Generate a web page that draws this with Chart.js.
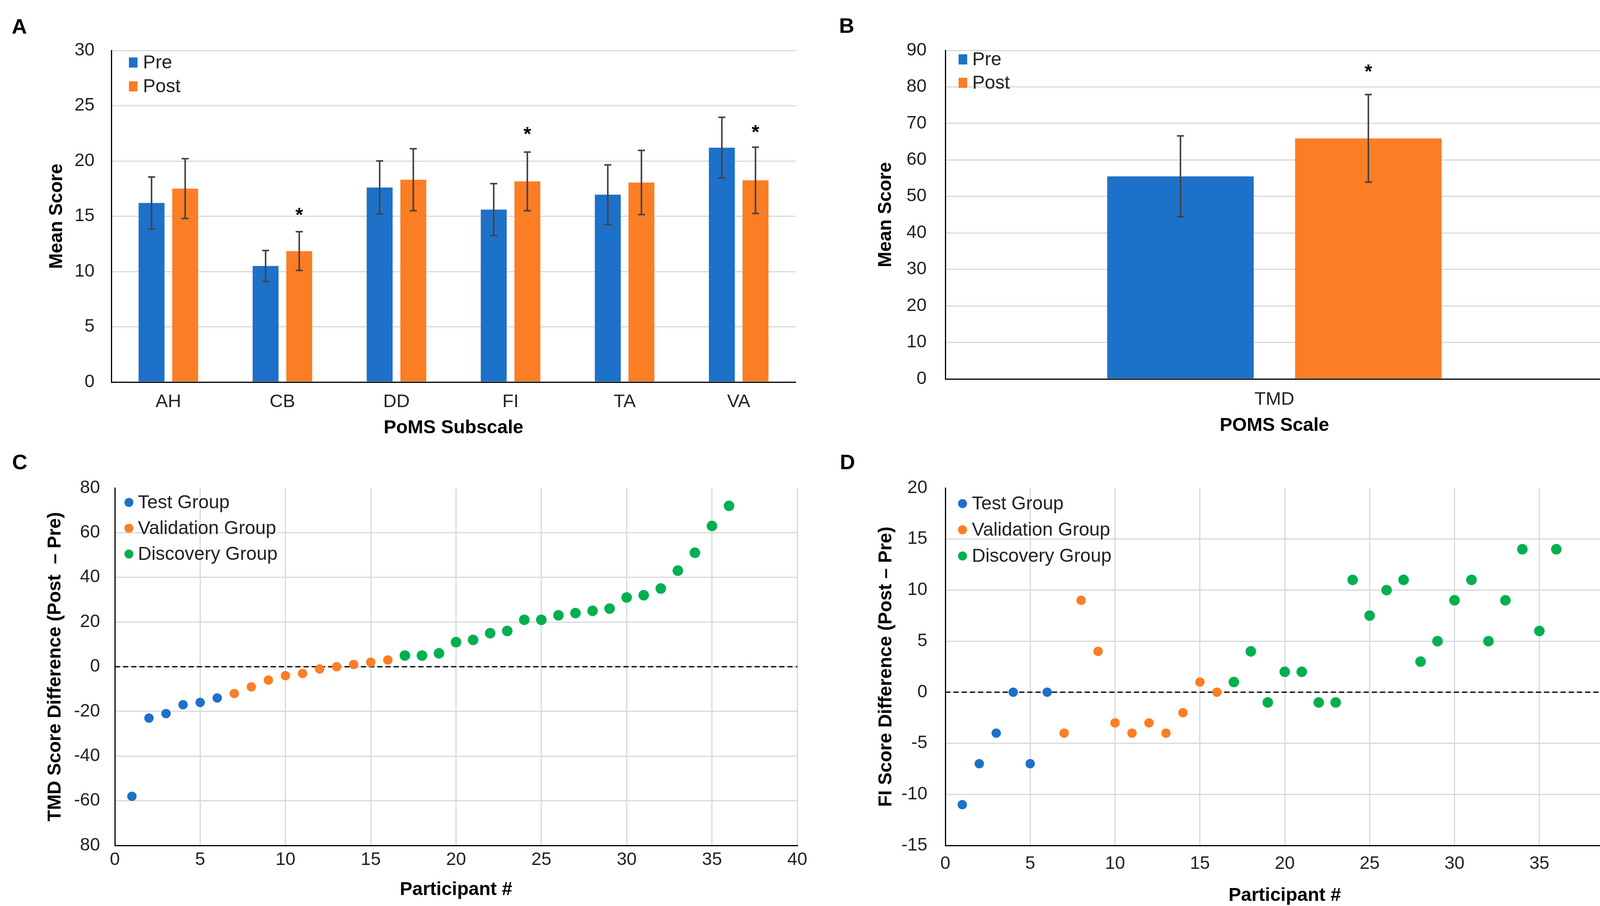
<!DOCTYPE html>
<html>
<head>
<meta charset="utf-8">
<script src="https://cdn.jsdelivr.net/npm/chart.js@4.4.1/dist/chart.umd.min.js"></script>
<style>
  html, body { margin: 0; padding: 0; background: #fff; }
  body { width: 4208px; height: 2319px; position: relative; overflow: hidden; font-family: "Liberation Sans", Arial, sans-serif; }
  canvas { position: absolute; }
  .letter { position: absolute; font-weight: bold; font-size: 54px; line-height: 1; color: #000; }
</style>
</head>
<body>
<div class="letter" style="left:30px;top:40px">A</div>
<div class="letter" style="left:2148px;top:38px">B</div>
<div class="letter" style="left:31px;top:1155px">C</div>
<div class="letter" style="left:2150px;top:1155px">D</div>

<canvas id="chartA" width="2104" height="1160" style="left:0;top:0;width:2104px;height:1160px"></canvas>
<canvas id="chartB" width="2104" height="1160" style="left:2104px;top:0;width:2104px;height:1160px"></canvas>
<canvas id="chartC" width="2104" height="1159" style="left:0;top:1160px;width:2104px;height:1159px"></canvas>
<canvas id="chartD" width="2104" height="1159" style="left:2104px;top:1160px;width:2104px;height:1159px"></canvas>

<script>
// panel A - PoMS subscales
const subscales = ['AH', 'CB', 'DD', 'FI', 'TA', 'VA'];
const preMeans = [16.2, 10.5, 17.6, 15.6, 16.95, 21.2];
const preErr = [2.35, 1.4, 2.4, 2.35, 2.7, 2.75];
const postMeans = [17.5, 11.85, 18.3, 18.15, 18.05, 18.25];
const postErr = [2.7, 1.75, 2.8, 2.65, 2.9, 3.0];
const postStars = [null, 15.3, null, 22.6, null, 22.8];

// panel B - TMD
const scaleLabels = ['TMD'];
const tmdPre = [55.5];
const tmdPreErr = [11.1];
const tmdPost = [65.9];
const tmdPostErr = [12];
const tmdStars = [84.8];

// panels C and D - participants
const testIds = [1, 2, 3, 4, 5, 6];
const validIds = [7, 8, 9, 10, 11, 12, 13, 14, 15, 16];
const discIds = [17, 18, 19, 20, 21, 22, 23, 24, 25, 26, 27, 28, 29, 30, 31, 32, 33, 34, 35, 36];

const tmdTest = [-58, -23, -21, -17, -16, -14];
const tmdValid = [-12, -9, -6, -4, -3, -1, 0, 1, 2, 3];
const tmdDisc = [5, 5, 6, 11, 12, 15, 16, 21, 21, 23, 24, 25, 26, 31, 32, 35, 43, 51, 63, 72];

const fiTest = [-11, -7, -4, 0, -7, 0];
const fiValid = [-4, 9, 4, -3, -4, -3, -4, -2, 1, 0];
const fiDisc = [1, 4, -1, 2, 2, -1, -1, 11, 7.5, 10, 11, 3, 5, 9, 11, 5, 9, 14, 6, 14];

const BLUE = '#1E71C8';
const ORANGE = '#FB7E25';
const GREEN = '#00B050';
const GRID = '#D9D9D9';
const FONT = '"Liberation Sans", Arial, sans-serif';

Chart.defaults.font.family = FONT;
Chart.defaults.color = '#222';
Chart.defaults.animation = false;

function points(xs, ys) {
  return xs.map((x, i) => ({ x: x, y: ys[i] }));
}

// force axis size so the plot area lands where the original has it
function fixSize(size) {
  return function (scale) {
    if (scale.isHorizontal()) scale.height = size;
    else scale.width = size;
  };
}

const errorBars = {
  id: 'errorBars',
  afterDatasetsDraw(chart) {
    const ctx = chart.ctx;
    const y = chart.scales.y;
    chart.data.datasets.forEach((ds, i) => {
      if (!ds.errors) return;
      chart.getDatasetMeta(i).data.forEach((bar, j) => {
        const top = y.getPixelForValue(ds.data[j] + ds.errors[j]);
        const bot = y.getPixelForValue(ds.data[j] - ds.errors[j]);
        ctx.save();
        ctx.strokeStyle = '#444';
        ctx.lineWidth = 4;
        ctx.beginPath();
        ctx.moveTo(bar.x, top); ctx.lineTo(bar.x, bot);
        ctx.moveTo(bar.x - 9, top); ctx.lineTo(bar.x + 9, top);
        ctx.moveTo(bar.x - 9, bot); ctx.lineTo(bar.x + 9, bot);
        ctx.stroke();
        ctx.restore();
      });
    });
  }
};

const stars = {
  id: 'stars',
  afterDatasetsDraw(chart) {
    const ctx = chart.ctx;
    const y = chart.scales.y;
    chart.data.datasets.forEach((ds, i) => {
      if (!ds.stars) return;
      chart.getDatasetMeta(i).data.forEach((bar, j) => {
        if (ds.stars[j] == null) return;
        ctx.save();
        ctx.fillStyle = '#000';
        ctx.font = 'bold 50px ' + FONT;
        ctx.textAlign = 'center';
        ctx.textBaseline = 'alphabetic';
        ctx.fillText('*', bar.x, y.getPixelForValue(ds.stars[j]) + 22);
        ctx.restore();
      });
    });
  }
};

const zeroLine = {
  id: 'zeroLine',
  beforeDatasetsDraw(chart) {
    const ctx = chart.ctx;
    const area = chart.chartArea;
    const y0 = chart.scales.y.getPixelForValue(0);
    ctx.save();
    ctx.strokeStyle = '#111';
    ctx.lineWidth = 3.5;
    ctx.setLineDash([13, 8]);
    ctx.beginPath();
    ctx.moveTo(area.left, y0);
    ctx.lineTo(area.right, y0);
    ctx.stroke();
    ctx.restore();
  }
};

// legend drawn inside the plot, stacked, like the original
const insideLegend = {
  id: 'insideLegend',
  afterDraw(chart, args, opts) {
    const ctx = chart.ctx;
    const area = chart.chartArea;
    ctx.save();
    ctx.font = '48px ' + FONT;
    ctx.textBaseline = 'middle';
    chart.data.datasets.forEach((ds, i) => {
      const cy = area.top + opts.top + i * opts.step;
      const mx = area.left + opts.markerX;
      ctx.fillStyle = ds.backgroundColor;
      if (opts.shape === 'circle') {
        ctx.beginPath();
        ctx.arc(mx, cy, 11.5, 0, Math.PI * 2);
        ctx.fill();
      } else {
        ctx.fillRect(mx - 11, cy - 13, 22, 26);
      }
      ctx.fillStyle = '#222';
      ctx.fillText(ds.label, area.left + opts.textX, cy + 2);
    });
    ctx.restore();
  }
};

function yAxis(min, max, step, width, gap, title, cb, hideTop) {
  return {
    min: min, max: max,
    afterFit: fixSize(width),
    ticks: { stepSize: step, padding: gap, font: { size: 46, lineHeight: 1 }, callback: cb },
    grid: {
      color: c => (hideTop && c.tick && c.tick.value === max ? 'rgba(0,0,0,0)' : GRID),
      lineWidth: 3,
      drawTicks: false
    },
    border: { display: true, color: '#000', width: 3 },
    title: { display: true, text: title, color: '#000', padding: 0, font: { size: 48, weight: 'bold', lineHeight: 1 } }
  };
}

function barChart(id, labels, pre, preE, post, postE, postS, yOpts, xOpts, pad, barPct, catPct, legend) {
  return new Chart(document.getElementById(id), {
    type: 'bar',
    data: {
      labels: labels,
      datasets: [
        { label: 'Pre', data: pre, errors: preE, backgroundColor: BLUE, barPercentage: barPct, categoryPercentage: catPct },
        { label: 'Post', data: post, errors: postE, stars: postS, backgroundColor: ORANGE, barPercentage: barPct, categoryPercentage: catPct }
      ]
    },
    options: {
      responsive: false,
      devicePixelRatio: 1,
      layout: { padding: pad },
      plugins: { legend: { display: false }, tooltip: { enabled: false }, insideLegend: legend },
      scales: {
        x: {
          afterFit: fixSize(xOpts.height),
          ticks: { padding: xOpts.gap, font: { size: 47, lineHeight: 1 } },
          grid: { display: false, drawTicks: false },
          border: { display: true, color: '#000', width: 3 },
          title: { display: true, text: xOpts.title, color: '#000', padding: 0, font: { size: 48, weight: 'bold', lineHeight: 1 } }
        },
        y: yOpts
      }
    },
    plugins: [errorBars, stars, insideLegend]
  });
}

function scatterChart(id, ys, yOpts, xOpts, pad, legend) {
  return new Chart(document.getElementById(id), {
    type: 'scatter',
    data: {
      datasets: [
        { label: 'Test Group', data: points(testIds, ys[0]), backgroundColor: BLUE, pointRadius: 12, borderWidth: 0 },
        { label: 'Validation Group', data: points(validIds, ys[1]), backgroundColor: ORANGE, pointRadius: 12, borderWidth: 0 },
        { label: 'Discovery Group', data: points(discIds, ys[2]), backgroundColor: GREEN, pointRadius: 13.5, borderWidth: 0 }
      ]
    },
    options: {
      responsive: false,
      devicePixelRatio: 1,
      layout: { padding: pad },
      plugins: { legend: { display: false }, tooltip: { enabled: false }, insideLegend: legend },
      scales: {
        x: {
          type: 'linear', min: 0, max: 40,
          afterFit: fixSize(xOpts.height),
          ticks: { stepSize: 5, padding: xOpts.gap, font: { size: 46, lineHeight: 1 } },
          grid: { color: GRID, lineWidth: 3, drawTicks: false },
          border: { display: true, color: '#000', width: 3 },
          title: { display: true, text: 'Participant #', color: '#000', padding: 0, font: { size: 48, weight: 'bold', lineHeight: 1 } }
        },
        y: yOpts
      }
    },
    plugins: [zeroLine, insideLegend]
  });
}

document.addEventListener('DOMContentLoaded', () => {
  barChart('chartA', subscales, preMeans, preErr, postMeans, postErr, postStars,
    yAxis(0, 30, 5, 163, 43, 'Mean Score'),
    { height: 142, gap: 28, title: 'PoMS Subscale' },
    { top: 129, right: 67, left: 122, bottom: 40 },
    0.77, 0.59,
    { top: 31, step: 61, markerX: 56, textX: 81, shape: 'rect' });

  barChart('chartB', scaleLabels, tmdPre, tmdPreErr, tmdPost, tmdPostErr, tmdStars,
    yAxis(0, 90, 10, 176, 48, 'Mean Score'),
    { height: 144, gap: 30, title: 'POMS Scale' },
    { top: 129, right: 103, left: 140, bottom: 46 },
    0.78, 0.571,
    { top: 23, step: 60, markerX: 45, textX: 69, shape: 'rect' });

  scatterChart('chartC', [tmdTest, tmdValid, tmdDisc],
    yAxis(-80, 80, 20, 176, 38, 'TMD Score Difference (Post  \u2013 Pre)', v => (v === -80 ? '80' : v), true),
    { height: 138, gap: 14 },
    { top: 89, right: 63, left: 118, bottom: 17 },
    { top: 37, step: 66, markerX: 36, textX: 59, shape: 'circle' });

  scatterChart('chartD', [fiTest, fiValid, fiDisc],
    yAxis(-15, 20, 5, 175, 46, 'FI Score Difference (Post \u2013 Pre)', undefined, true),
    { height: 153, gap: 24 },
    { top: 89, right: 50, left: 141, bottom: 2 },
    { top: 40, step: 67, markerX: 44, textX: 68, shape: 'circle' });
});
</script>
</body>
</html>
